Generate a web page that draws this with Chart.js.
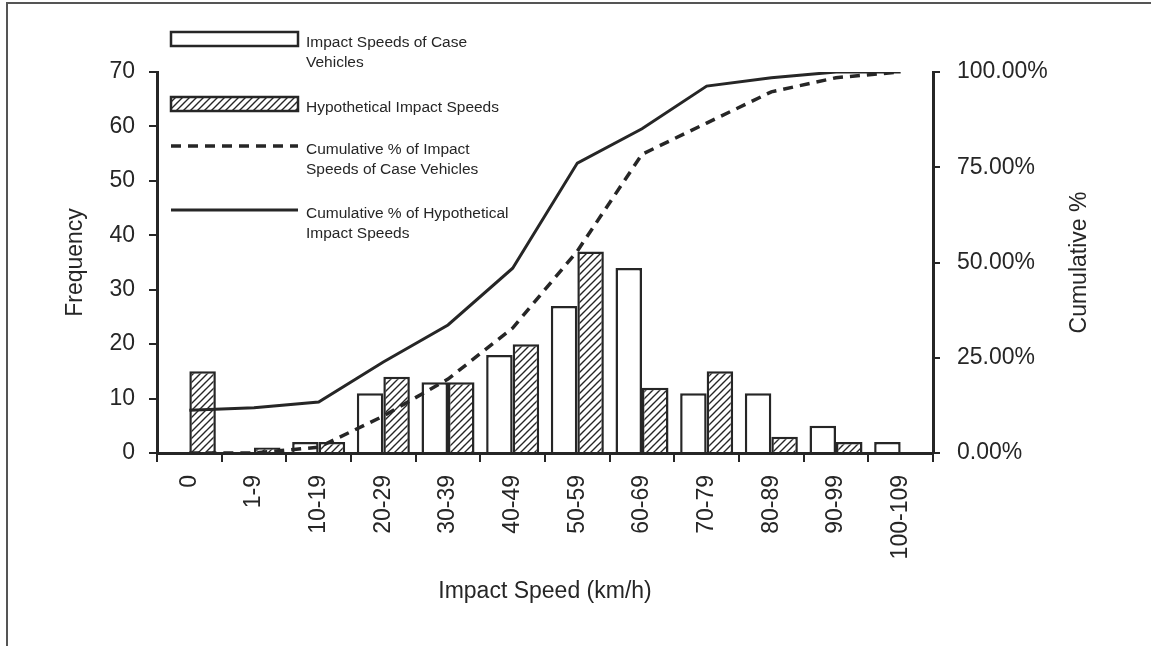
<!DOCTYPE html>
<html>
<head>
<meta charset="utf-8">
<script src="https://cdn.jsdelivr.net/npm/chart.js@4.4.1/dist/chart.umd.min.js"></script>
<style>
  html, body { margin: 0; padding: 0; background: #fff; }
  #wrap { width: 1151px; height: 646px; position: relative; }
</style>
</head>
<body>
<div id="wrap"><canvas id="speedChart"></canvas></div>
<script>
// --- DONNÉES ---
const speedBands = ['0', '1-9', '10-19', '20-29', '30-39', '40-49', '50-59', '60-69', '70-79', '80-89', '90-99', '100-109'];
const caseFrequency = [0, 0, 2, 11, 13, 18, 27, 34, 11, 11, 5, 2];
const hypotheticalFrequency = [15, 1, 2, 14, 13, 20, 37, 12, 15, 3, 2, 0];
const caseCumulative = [0, 0, 1.5, 9.7, 19.4, 32.8, 53.0, 78.4, 86.6, 94.8, 98.5, 100];
const hypotheticalCumulative = [11.2, 11.9, 13.4, 23.9, 33.6, 48.5, 76.1, 85.1, 96.3, 98.5, 100, 100];
const frequencyTicks = [0, 10, 20, 30, 40, 50, 60, 70];
const cumulativeTicks = [0, 25, 50, 75, 100];

// legend text, one array of lines per dataset
const legendLines = [
    ['Impact Speeds of Case', 'Vehicles'],
    ['Hypothetical Impact Speeds'],
    ['Cumulative % of Impact', 'Speeds of Case Vehicles'],
    ['Cumulative % of Hypothetical', 'Impact Speeds']
];

// --- STYLE ---
const INK = '#262626';
const FONT = '"Liberation Sans", Arial, Helvetica, sans-serif';

const canvas = document.getElementById('speedChart');

// Motif hachuré "/" pour les barres hypothétiques
function makeHatch() {
    const size = 7;
    const c = document.createElement('canvas');
    c.width = c.height = size;
    const g = c.getContext('2d');
    g.fillStyle = '#fff';
    g.fillRect(0, 0, size, size);
    g.strokeStyle = INK;
    g.lineWidth = 1.4;
    g.beginPath();
    g.moveTo(0, size); g.lineTo(size, 0);
    g.moveTo(-size / 2, size / 2); g.lineTo(size / 2, -size / 2);
    g.moveTo(size / 2, size * 1.5); g.lineTo(size * 1.5, size / 2);
    g.stroke();
    return canvas.getContext('2d').createPattern(c, 'repeat');
}
const hatch = makeHatch();

// Fond blanc + cadre haut/gauche
const framePlugin = {
    id: 'frame',
    beforeDraw(chart) {
        const ctx = chart.ctx;
        ctx.save();
        ctx.fillStyle = '#fff';
        ctx.fillRect(0, 0, chart.width, chart.height);
        ctx.strokeStyle = '#555';
        ctx.lineWidth = 2;
        ctx.beginPath();
        ctx.moveTo(7, chart.height);
        ctx.lineTo(7, 3);
        ctx.lineTo(chart.width, 3);
        ctx.stroke();
        ctx.restore();
    }
};

// Légende dessinée dans le coin haut gauche, titre de l'axe droit
const legendPlugin = {
    id: 'sideLegend',
    afterDraw(chart) {
        const ctx = chart.ctx;
        const x0 = 171, x1 = 298, textX = 306;
        const rowsY = [39, 104, 146, 210];
        ctx.save();
        chart.data.datasets.forEach((ds, i) => {
            const y = rowsY[i];
            ctx.strokeStyle = ds.borderColor;
            ctx.lineWidth = ds.borderWidth;
            if (ds.type === 'bar') {
                ctx.fillStyle = ds.backgroundColor;
                ctx.fillRect(x0, y - 7, x1 - x0, 14);
                ctx.setLineDash([]);
                ctx.strokeRect(x0, y - 7, x1 - x0, 14);
            } else {
                ctx.setLineDash(ds.borderDash || []);
                ctx.beginPath();
                ctx.moveTo(x0, y);
                ctx.lineTo(x1, y);
                ctx.stroke();
            }
            ctx.setLineDash([]);
            ctx.fillStyle = INK;
            ctx.font = '15.5px ' + FONT;
            ctx.textBaseline = 'middle';
            ctx.textAlign = 'left';
            legendLines[i].forEach((line, k) => {
                ctx.fillText(line, textX, y + 4 + k * 20);
            });
        });

        // Titre "Cumulative %" (lu de bas en haut)
        const area = chart.chartArea;
        ctx.translate(1080, (area.top + area.bottom) / 2);
        ctx.rotate(-Math.PI / 2);
        ctx.font = '23px ' + FONT;
        ctx.textAlign = 'center';
        ctx.textBaseline = 'middle';
        ctx.fillText('Cumulative %', 0, 0);
        ctx.restore();
    }
};

const tickFont = { family: FONT, size: 23 };

new Chart(canvas, {
    type: 'bar',
    data: {
        labels: speedBands,
        datasets: [
            {
                type: 'bar',
                label: 'Impact Speeds of Case Vehicles',
                data: caseFrequency,
                yAxisID: 'y',
                backgroundColor: '#fff',
                borderColor: INK,
                borderWidth: 2.5,
                categoryPercentage: 0.82,
                barPercentage: 1,
                order: 1
            },
            {
                type: 'bar',
                label: 'Hypothetical Impact Speeds',
                data: hypotheticalFrequency,
                yAxisID: 'y',
                backgroundColor: hatch,
                borderColor: INK,
                borderWidth: 2.5,
                categoryPercentage: 0.82,
                barPercentage: 1,
                order: 1
            },
            {
                type: 'line',
                label: 'Cumulative % of Impact Speeds of Case Vehicles',
                data: caseCumulative,
                yAxisID: 'y1',
                borderColor: INK,
                borderWidth: 3.5,
                borderDash: [10, 7],
                pointRadius: 0,
                tension: 0,
                fill: false,
                order: 0
            },
            {
                type: 'line',
                label: 'Cumulative % of Hypothetical Impact Speeds',
                data: hypotheticalCumulative,
                yAxisID: 'y1',
                borderColor: INK,
                borderWidth: 3,
                pointRadius: 0,
                tension: 0,
                fill: false,
                order: 0
            }
        ]
    },
    options: {
        responsive: true,
        maintainAspectRatio: false,
        animation: false,
        layout: { padding: { top: 72, left: 0, right: 0, bottom: 0 } },
        plugins: {
            legend: { display: false },
            tooltip: { enabled: false }
        },
        scales: {
            x: {
                offset: true,
                grid: { offset: true, drawOnChartArea: false, color: INK, lineWidth: 2, tickLength: 9 },
                border: { color: INK, width: 3 },
                ticks: { color: INK, font: tickFont, minRotation: 90, maxRotation: 90, autoSkip: false, padding: 13 },
                title: { display: true, text: 'Impact Speed (km/h)', color: INK, font: tickFont, padding: { top: 0, bottom: 41 } },
                afterFit: s => { s.height = 193; }
            },
            y: {
                position: 'left',
                min: 0,
                max: 70,
                afterBuildTicks: s => { s.ticks = frequencyTicks.map(v => ({ value: v })); },
                grid: { drawOnChartArea: false, color: INK, lineWidth: 2, tickLength: 8 },
                border: { color: INK, width: 3 },
                ticks: { color: INK, font: tickFont, padding: 14 },
                title: { display: true, text: 'Frequency', color: INK, font: tickFont, padding: { top: 62, bottom: 0 } },
                afterFit: s => { s.width = 157; }
            },
            y1: {
                position: 'right',
                min: 0,
                max: 100,
                afterBuildTicks: s => { s.ticks = cumulativeTicks.map(v => ({ value: v })); },
                grid: { drawOnChartArea: false, color: INK, lineWidth: 2, tickLength: 7 },
                border: { color: INK, width: 3 },
                ticks: { color: INK, font: tickFont, padding: 17, callback: v => v.toFixed(2) + '%' },
                afterFit: s => { s.width = 218; }
            }
        }
    },
    plugins: [framePlugin, legendPlugin]
});
</script>
</body>
</html>
